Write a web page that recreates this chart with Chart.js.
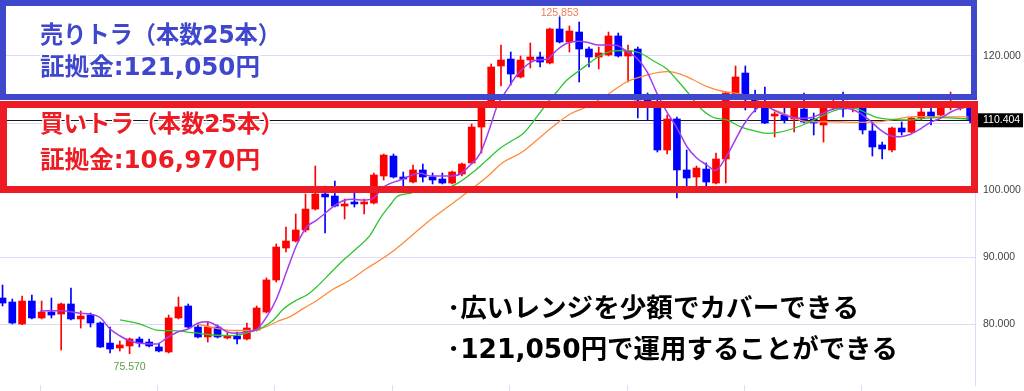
<!DOCTYPE html>
<html lang="ja">
<head>
<meta charset="utf-8">
<title>売りトラ・買いトラ</title>
<script src="https://cdn.jsdelivr.net/npm/chart.js@4.4.0/dist/chart.umd.min.js"></script>
<style>
    html, body { margin: 0; padding: 0; background: #fff; }
    #chart { display: block; }
</style>
</head>
<body>
<canvas id="chart" width="1024" height="391"></canvas>
<script>
// ============================================
// DATA
// ============================================

// OHLC, one entry per candle (oldest first)
const openPrices = [
    83.88, 83.28, 80.00, 83.43, 80.90, 81.79, 81.49, 82.99, 80.75, 81.34,
    80.15, 77.16, 76.42, 76.72, 77.76, 77.31, 76.57, 75.82, 80.90, 82.69,
    79.55, 78.06, 79.55, 77.91, 78.21, 77.76, 79.10, 81.79, 86.57, 91.34,
    92.39, 94.03, 97.16, 99.40, 99.10, 97.61, 98.21, 97.91, 98.06, 102.09,
    105.07, 101.94, 101.19, 102.99, 101.94, 101.64, 101.04, 102.39, 104.03, 109.40,
    112.39, 118.51, 119.55, 116.87, 119.40, 119.85, 118.96, 124.03, 122.09, 123.58,
    121.04, 119.85, 120.15, 122.99, 120.00, 121.04, 113.43, 112.84, 105.97, 110.60,
    102.99, 101.94, 103.13, 101.04, 104.63, 114.18, 117.46, 113.73, 112.39, 111.04,
    111.19, 110.60, 112.09, 110.60, 109.70, 112.24, 112.39, 112.24, 112.39, 108.81,
    106.72, 105.97, 109.25, 108.66, 110.75, 111.64, 111.19, 112.39, 112.24, 112.39
];
const highPrices = [
    85.82, 83.73, 84.18, 84.33, 83.43, 83.88, 83.13, 85.37, 81.94, 81.64,
    80.30, 79.55, 77.46, 77.91, 78.06, 77.76, 77.16, 81.34, 84.03, 82.99,
    80.00, 80.30, 79.85, 78.66, 78.81, 80.15, 82.69, 86.87, 91.94, 94.48,
    96.42, 99.40, 103.58, 100.60, 101.34, 98.66, 100.45, 98.66, 102.54, 105.37,
    105.37, 102.69, 103.73, 103.88, 102.54, 102.54, 102.84, 104.03, 109.85, 112.39,
    118.81, 121.64, 120.60, 120.00, 121.94, 120.60, 124.18, 125.853, 124.48, 125.07,
    121.34, 121.34, 123.58, 123.43, 121.64, 121.34, 114.48, 113.43, 111.19, 110.90,
    105.97, 103.58, 104.03, 105.52, 114.63, 118.51, 118.51, 114.93, 115.37, 111.64,
    112.24, 112.39, 114.48, 111.49, 112.54, 113.43, 114.63, 112.84, 112.84, 110.15,
    107.16, 109.40, 110.15, 110.80, 112.39, 112.24, 112.99, 114.63, 113.13, 112.84
];
const lowPrices = [
    82.69, 80.00, 79.90, 80.75, 80.75, 80.90, 76.12, 80.60, 79.40, 79.55,
    76.50, 75.67, 75.97, 75.57, 76.57, 76.57, 75.82, 75.67, 80.75, 79.40,
    77.91, 77.31, 77.91, 77.76, 77.01, 77.61, 78.96, 81.64, 86.27, 90.75,
    92.24, 93.73, 97.01, 93.58, 97.46, 95.67, 97.46, 96.42, 97.91, 101.49,
    101.79, 100.60, 101.04, 101.19, 100.90, 100.90, 100.90, 102.09, 103.88, 105.52,
    112.30, 115.52, 115.67, 116.72, 118.21, 118.36, 118.81, 121.94, 120.60, 116.12,
    118.36, 118.06, 120.00, 119.85, 116.12, 110.75, 110.45, 105.67, 105.37, 98.81,
    100.30, 100.30, 100.30, 100.90, 101.04, 113.88, 111.94, 111.64, 109.90, 107.91,
    110.00, 108.66, 110.00, 108.21, 107.16, 111.94, 110.90, 111.64, 108.36, 105.07,
    104.63, 105.67, 108.21, 108.51, 110.45, 109.70, 111.04, 111.94, 111.94, 110.00
];
const closePrices = [
    83.13, 80.15, 83.43, 80.90, 81.79, 81.34, 82.99, 80.75, 81.19, 80.15,
    76.57, 76.27, 76.87, 77.76, 77.16, 76.72, 75.97, 80.90, 82.54, 79.55,
    78.06, 79.55, 78.06, 78.21, 77.76, 79.40, 82.39, 86.57, 91.49, 92.39,
    94.03, 97.16, 99.40, 98.96, 97.61, 97.91, 97.91, 98.21, 102.24, 105.22,
    101.94, 101.64, 102.99, 101.94, 101.49, 101.04, 102.69, 103.88, 109.40, 112.24,
    118.36, 119.40, 117.31, 119.40, 119.85, 119.10, 124.03, 122.09, 123.73, 121.04,
    119.85, 120.45, 122.99, 120.00, 120.75, 113.43, 112.54, 105.97, 110.60, 102.99,
    101.79, 103.28, 101.19, 104.63, 114.48, 116.87, 114.18, 112.84, 110.00, 111.34,
    110.45, 112.24, 110.15, 110.00, 112.24, 112.84, 112.09, 112.54, 108.96, 106.42,
    106.12, 109.25, 108.66, 110.75, 111.64, 110.90, 112.39, 112.99, 112.84, 110.404
];
const candleNumbers = openPrices.map((_, i) => i);

// Moving averages: position (candle number) and value
const maShortPos = [
    3.84, 6.06, 7.93, 8.96, 9.98, 11.0, 12.03, 13.05, 14.07, 15.78, 16.81, 17.96, 18.99,
    20.01, 20.93, 21.92, 22.95, 23.97, 25.0, 26.02, 27.04, 28.07, 29.12, 30.14, 31.14,
    31.99, 32.8, 33.83, 34.85, 35.88, 36.9, 37.92, 38.94, 40.69, 42.73, 43.76, 45.8,
    46.83, 47.85, 48.87, 49.9, 50.58, 51.61, 52.63, 53.65, 54.68, 55.7, 56.72, 57.75,
    58.9, 59.93, 60.95, 61.84, 62.87, 63.89, 64.91, 65.94, 66.96, 67.98, 69.01, 70.03,
    71.05, 72.08, 72.93, 73.95, 74.97, 75.82, 76.84, 77.87, 78.89, 80.0, 81.63, 82.65,
    83.67, 84.7, 85.72, 86.75, 87.77, 88.79, 89.82, 90.84, 91.86, 92.89, 93.91, 94.93,
    95.96, 96.98, 98.0, 98.82
];
const maShortVal = [
    81.94, 81.99, 81.60, 81.49, 80.97, 79.25, 78.21, 77.46, 77.12, 77.01, 77.91, 78.85, 79.25,
    80.15, 80.34, 79.75, 78.85, 78.61, 78.85, 79.21, 81.09, 83.88, 88.06, 91.94, 94.52,
    95.37, 96.27, 97.51, 98.40, 98.61, 98.51, 98.76, 100.40, 101.49, 102.49, 102.09, 102.09,
    102.39, 103.73, 105.48, 109.45, 112.43, 114.93, 117.16, 118.66, 119.40, 119.51, 120.90, 121.90,
    122.19, 122.01, 121.64, 121.64, 121.57, 120.67, 119.66, 117.66, 114.43, 111.64, 109.25, 106.46,
    104.73, 103.73, 102.91, 104.73, 107.46, 109.70, 111.69, 112.69, 111.94, 111.20, 110.70, 110.79,
    111.30, 111.94, 112.28, 112.09, 111.45, 110.30, 108.96, 108.10, 107.96, 108.31, 109.10, 110.10,
    110.70, 111.60, 112.20, 112.39
];
const maMidPos = [
    12.03, 14.07, 15.78, 17.48, 19.53, 21.58, 23.62, 25.67, 26.66, 27.72, 28.74, 30.11,
    31.14, 32.16, 33.52, 34.88, 36.25, 37.61, 38.64, 39.66, 40.35, 41.71, 43.76, 45.8,
    46.83, 48.19, 49.56, 50.92, 51.94, 53.31, 54.68, 55.7, 56.72, 57.75, 59.11, 60.47,
    61.16, 62.52, 63.89, 65.25, 66.61, 67.98, 69.01, 70.03, 71.39, 72.75, 74.12, 75.48,
    76.84, 78.21, 79.24, 80.6, 82.31, 83.67, 85.03, 86.4, 87.43, 88.45, 89.48, 90.84,
    92.55, 94.25, 95.96, 97.66, 98.85
];
const maMidVal = [
    80.60, 80.00, 79.10, 79.00, 78.70, 78.36, 78.28, 78.96, 79.55, 80.60, 82.24, 83.58,
    84.33, 85.57, 87.57, 89.55, 91.30, 93.28, 95.78, 97.76, 99.00, 99.51, 100.25, 100.49,
    101.24, 102.73, 104.48, 106.22, 107.21, 108.46, 110.94, 112.94, 114.67, 116.42, 117.91, 119.40,
    120.07, 120.75, 120.82, 120.45, 119.25, 118.06, 116.42, 114.70, 112.24, 110.82, 110.45, 109.45,
    108.85, 108.46, 108.55, 109.03, 109.96, 110.94, 111.79, 112.28, 112.09, 111.45, 110.79, 110.55,
    110.45, 110.70, 110.79, 110.70, 110.60
];
const maLongPos = [
    19.88, 21.92, 23.62, 25.67, 26.97, 28.07, 29.43, 30.79, 32.16, 33.86, 35.57, 37.28,
    38.64, 39.66, 43.76, 46.65, 47.85, 49.56, 51.26, 52.97, 54.68, 56.38, 58.08, 59.79,
    61.84, 63.89, 65.94, 67.98, 69.34, 70.71, 72.08, 73.78, 75.15, 76.82, 78.56, 79.58,
    80.94, 82.31, 85.03, 87.77, 89.82, 90.84, 91.86, 93.22, 94.59, 95.96, 97.66, 98.85
];
const maLongVal = [
    80.00, 79.36, 79.03, 79.03, 79.60, 80.34, 81.09, 82.34, 83.51, 85.22, 86.57, 88.31,
    89.55, 90.55, 95.52, 98.66, 100.00, 101.94, 104.18, 105.48, 107.46, 109.55, 111.34, 112.43,
    114.18, 116.16, 117.16, 117.66, 117.31, 116.42, 115.42, 114.70, 114.43, 113.73, 112.16, 111.64,
    110.75, 110.19, 110.19, 110.10, 110.19, 110.45, 110.70, 110.94, 110.94, 110.90, 110.90, 110.90
];

// Axis ticks
const priceTicks = [80, 90, 100, 110, 120];
const timeTicks = [3.85, 15.85, 27.85, 39.85, 51.9, 63.9, 75.9, 87.9];

// Annotation texts
const sellTitle = '売りトラ（本数25本）';
const sellMargin = '証拠金:121,050円';
const buyTitle = '買いトラ（本数25本）';
const buyMargin = '証拠金:106,970円';
const notes = ['･広いレンジを少額でカバーできる', '･121,050円で運用することができる'];

// ============================================
// STYLE
// ============================================
const UP_COLOR = '#ff0000';
const DOWN_COLOR = '#0000ff';
const GRID_COLOR = '#dcdcf6';
const BLUE_BOX = '#3f48cc';
const RED_BOX = '#ed1c24';
const JP_FONT = '"DejaVu Sans", "Noto Sans CJK JP", sans-serif';

function candleColor(ctx) {
    const i = ctx.dataIndex;
    if (i === undefined) return UP_COLOR;
    return closePrices[i] >= openPrices[i] ? UP_COLOR : DOWN_COLOR;
}

const toPoints = (pos, val) => pos.map((p, k) => ({ x: p, y: val[k] }));

/**
 * Draw text squeezed/stretched to a target width
 */
function drawFitted(ctx, text, x, y, width, fill, halo) {
    const natural = ctx.measureText(text).width;
    const sx = width / natural;
    ctx.save();
    ctx.translate(x, y);
    ctx.scale(sx, 1);
    if (halo) {
        ctx.strokeStyle = '#fff';
        ctx.lineWidth = 3;
        ctx.lineJoin = 'round';
        ctx.strokeText(text, 0, 0);
    }
    ctx.fillStyle = fill;
    ctx.fillText(text, 0, 0);
    ctx.restore();
}

// Current price line (drawn under candles)
const priceLinePlugin = {
    id: 'priceLine',
    beforeDatasetsDraw(chart) {
        const { ctx, chartArea, scales } = chart;
        const last = closePrices[closePrices.length - 1];
        const y = Math.round(scales.y.getPixelForValue(last)) + 0.5;
        ctx.save();
        ctx.strokeStyle = '#1a1a1a';
        ctx.lineWidth = 1;
        ctx.beginPath();
        ctx.moveTo(chartArea.left, y);
        ctx.lineTo(chartArea.right, y);
        ctx.stroke();
        ctx.restore();
    }
};

// Labels, boxes and notes on top
const overlayPlugin = {
    id: 'overlay',
    afterDraw(chart) {
        const { ctx, chartArea, scales } = chart;
        const xs = scales.x, ys = scales.y;
        ctx.save();

        // highest high / lowest low labels
        let hi = 0, lo = 0;
        highPrices.forEach((v, i) => { if (v > highPrices[hi]) hi = i; });
        lowPrices.forEach((v, i) => { if (v < lowPrices[lo]) lo = i; });
        ctx.font = '10.5px "Liberation Sans", Arial, sans-serif';
        ctx.textAlign = 'center';
        ctx.textBaseline = 'alphabetic';
        ctx.fillStyle = '#f07a58';
        ctx.fillText(highPrices[hi].toFixed(3), xs.getPixelForValue(hi), ys.getPixelForValue(highPrices[hi]) - 1);
        ctx.textBaseline = 'top';
        ctx.fillStyle = '#5f9a48';
        ctx.fillText(lowPrices[lo].toFixed(3), xs.getPixelForValue(lo), ys.getPixelForValue(lowPrices[lo]) + 8);

        // current price tag
        const last = closePrices[closePrices.length - 1];
        const py = ys.getPixelForValue(last);
        ctx.fillStyle = '#000';
        ctx.fillRect(chartArea.right + 2, py - 7, 46, 14);
        ctx.fillStyle = '#fff';
        ctx.textAlign = 'left';
        ctx.textBaseline = 'middle';
        ctx.fillText(last.toFixed(3), chartArea.right + 8, py);

        // boxes
        ctx.strokeStyle = BLUE_BOX;
        ctx.lineWidth = 6;
        ctx.strokeRect(3, 3, 971, 94);
        ctx.strokeStyle = RED_BOX;
        ctx.lineWidth = 7;
        ctx.strokeRect(3.5, 104.5, 971, 85);

        // box texts
        ctx.textAlign = 'left';
        ctx.textBaseline = 'middle';
        ctx.font = 'bold 24px ' + JP_FONT;
        drawFitted(ctx, sellTitle, 40, 37, 241, BLUE_BOX, true);
        drawFitted(ctx, sellMargin, 40, 69, 220, BLUE_BOX, true);
        drawFitted(ctx, buyTitle, 40, 126, 244, RED_BOX, true);
        drawFitted(ctx, buyMargin, 40, 162, 220, RED_BOX, true);

        // notes
        ctx.font = 'bold 26px ' + JP_FONT;
        drawFitted(ctx, notes[0], 447, 310, 412, '#000', true);
        drawFitted(ctx, notes[1], 447, 351, 451, '#000', true);

        ctx.restore();
    }
};

// ============================================
// CHART
// ============================================
const chart = new Chart(document.getElementById('chart'), {
    type: 'bar',
    data: {
        datasets: [
            {
                type: 'line',
                label: 'MA short',
                data: toPoints(maShortPos, maShortVal),
                borderColor: '#a23cf0',
                borderWidth: 1.5,
                pointRadius: 0,
                cubicInterpolationMode: 'monotone',
                order: 0
            },
            {
                type: 'line',
                label: 'MA mid',
                data: toPoints(maMidPos, maMidVal),
                borderColor: '#2fc42f',
                borderWidth: 1.3,
                pointRadius: 0,
                cubicInterpolationMode: 'monotone',
                order: 0
            },
            {
                type: 'line',
                label: 'MA long',
                data: toPoints(maLongPos, maLongVal),
                borderColor: '#ff8a3c',
                borderWidth: 1.3,
                pointRadius: 0,
                cubicInterpolationMode: 'monotone',
                order: 0
            },
            {
                label: 'body',
                data: candleNumbers.map(i => ({ x: i, y: [openPrices[i], closePrices[i]] })),
                backgroundColor: candleColor,
                barThickness: 7,
                minBarLength: 1,
                grouped: false,
                order: 1
            },
            {
                label: 'wick',
                data: candleNumbers.map(i => ({ x: i, y: [lowPrices[i], highPrices[i]] })),
                backgroundColor: candleColor,
                barThickness: 1,
                grouped: false,
                order: 2
            }
        ]
    },
    options: {
        responsive: false,
        animation: false,
        devicePixelRatio: 1,
        layout: { padding: 0 },
        plugins: {
            legend: { display: false },
            tooltip: { enabled: false }
        },
        scales: {
            x: {
                type: 'linear',
                min: -0.26,
                max: 99.5,
                offset: false,
                afterBuildTicks: s => { s.ticks = timeTicks.map(v => ({ value: v })); },
                ticks: { display: false },
                grid: {
                    offset: false,
                    drawOnChartArea: false,
                    drawTicks: true,
                    tickLength: 6,
                    color: GRID_COLOR
                },
                border: { display: false }
            },
            y: {
                type: 'linear',
                position: 'right',
                min: 70.896,
                max: 128.358,
                afterBuildTicks: s => { s.ticks = priceTicks.map(v => ({ value: v })); },
                afterFit: s => { s.width = 49; s.paddingTop = 0; s.paddingBottom = 0; },
                ticks: {
                    padding: 8,
                    color: '#444',
                    font: { family: '"Liberation Sans", Arial, sans-serif', size: 10.5 },
                    callback: v => (v === 110 ? '' : v.toFixed(3))
                },
                grid: { color: GRID_COLOR, drawTicks: false },
                border: { color: GRID_COLOR }
            }
        }
    },
    plugins: [priceLinePlugin, overlayPlugin]
});
</script>
</body>
</html>
